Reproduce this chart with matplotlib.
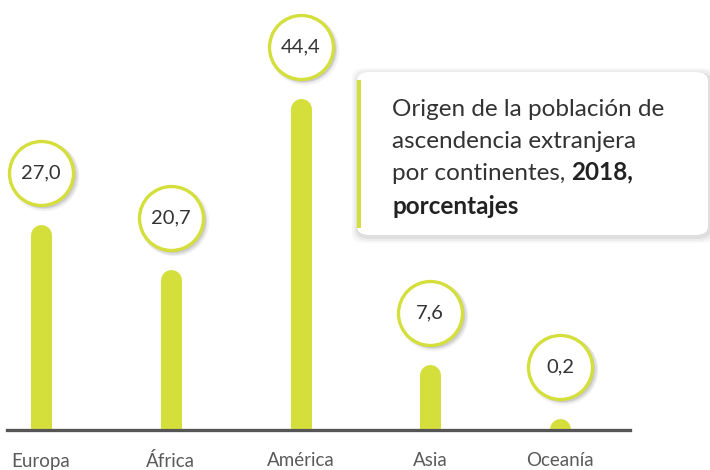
import matplotlib
matplotlib.use("Agg")
import matplotlib.pyplot as plt
from matplotlib.patches import FancyBboxPatch, Rectangle

# Datos del gráfico
continentes = ["Europa", "África", "América", "Asia", "Oceanía"]
porcentajes = [27.0, 20.7, 44.4, 7.6, 0.2]
etiquetas = ["27,0", "20,7", "44,4", "7,6", "0,2"]

verde = "#d5df3c"
gris_eje = "#555555"
plt.rcParams["font.family"] = ["Lato", "DejaVu Sans"]

W, H = 710, 470
fig = plt.figure(figsize=(W / 100, H / 100), dpi=100)
ax = fig.add_axes([0, 0, 1, 1])
ax.set_axis_off()

# escala: px por unidad
py = 7.24
px = 129.75
ax.set_xlim(-41 / px, (W - 41) / px)
ax.set_ylim(-40 / py, 430 / py)

x = list(range(len(continentes)))

# barras con tope redondeado (línea gruesa recortada en la base)
recorte = Rectangle((-1, 0), 10, 100, transform=ax.transData)
for i, v in zip(x, porcentajes):
    ln, = ax.plot([i, i], [0, v], color=verde, lw=21 * 0.72, solid_capstyle="round", zorder=2)
    ln.set_clip_path(recorte)

# eje base
ax.axhline(-0.4 / py, xmin=7 / W, xmax=630 / W, color="#d8d8d8", lw=2.5, zorder=1)
ax.axhline(0, xmin=7 / W, xmax=630 / W, color=gris_eje, lw=2.3, zorder=3)

# etiquetas de categoría
for i, nombre in enumerate(continentes):
    ax.annotate(nombre, (i, 0), xytext=(0, -31 * 0.72), textcoords="offset points",
                ha="center", va="center", fontsize=13.5, color="#5a5a5a")

# círculos con valores
desp = 62 / py
yc = [v + desp for v in porcentajes]
diam = 64 * 0.72
for i in range(len(x)):
    for k, a in enumerate([0.05, 0.07, 0.09]):
        ax.scatter(x[i] + (3 - k * 0.5) / px, yc[i] - (3 - k * 0.5) / py,
                   s=(diam + 4 - k * 1.5) ** 2, color="#000000", alpha=a,
                   linewidths=0, zorder=4)
ax.scatter(x, yc, s=diam ** 2, facecolor="white", edgecolor=verde, linewidths=2.4, zorder=5)
for i, t in enumerate(etiquetas):
    ax.text(x[i], yc[i], t, ha="center", va="center", fontsize=14.5,
            color="#333333", zorder=6)

# recuadro de título
bx, by, bw, bh = 357 / W, (H - 235) / H, 351 / W, 163 / H
for k, a in enumerate([0.03, 0.04, 0.06]):
    pad = (6 - k * 2) / W
    sombra = FancyBboxPatch((bx - pad + 1 / W, by - pad * W / H - 2 / H), bw + 2 * pad, bh + 2 * pad * W / H,
                            boxstyle="round,pad=0,rounding_size=0.02", transform=fig.transFigure,
                            facecolor="black", alpha=a, edgecolor="none", zorder=7)
    fig.add_artist(sombra)
caja = FancyBboxPatch((bx, by), bw, bh, boxstyle="round,pad=0,rounding_size=0.018",
                      transform=fig.transFigure, facecolor="white", edgecolor="none", zorder=8)
fig.add_artist(caja)
fig.add_artist(Rectangle((357 / W, (H - 228) / H), 3.5 / W, 148 / H, transform=fig.transFigure,
                         facecolor=verde, edgecolor="none", zorder=9))

tx = 392 / W
fs = 17.5
col = "#333333"
fig.text(tx, (H - 110) / H, "Origen de la población de", fontsize=fs,
         color=col, va="center", zorder=10)
fig.text(tx, (H - 142) / H, "ascendencia extranjera", fontsize=fs,
         color=col, va="center", zorder=10)
t3 = fig.text(tx, (H - 173) / H, "por continentes, ", fontsize=fs,
              color=col, va="center", zorder=10)
fig.add_artist(plt.Annotation("2018,", xy=(1, 0), xycoords=t3, va="bottom", ha="left",
                              fontsize=fs, color="#222222", fontweight="bold", zorder=10))
fig.text(tx, (H - 207) / H, "porcentajes", fontsize=fs, color="#222222", fontweight="bold",
         va="center", zorder=10)

fig.savefig("out.png", dpi=100)
